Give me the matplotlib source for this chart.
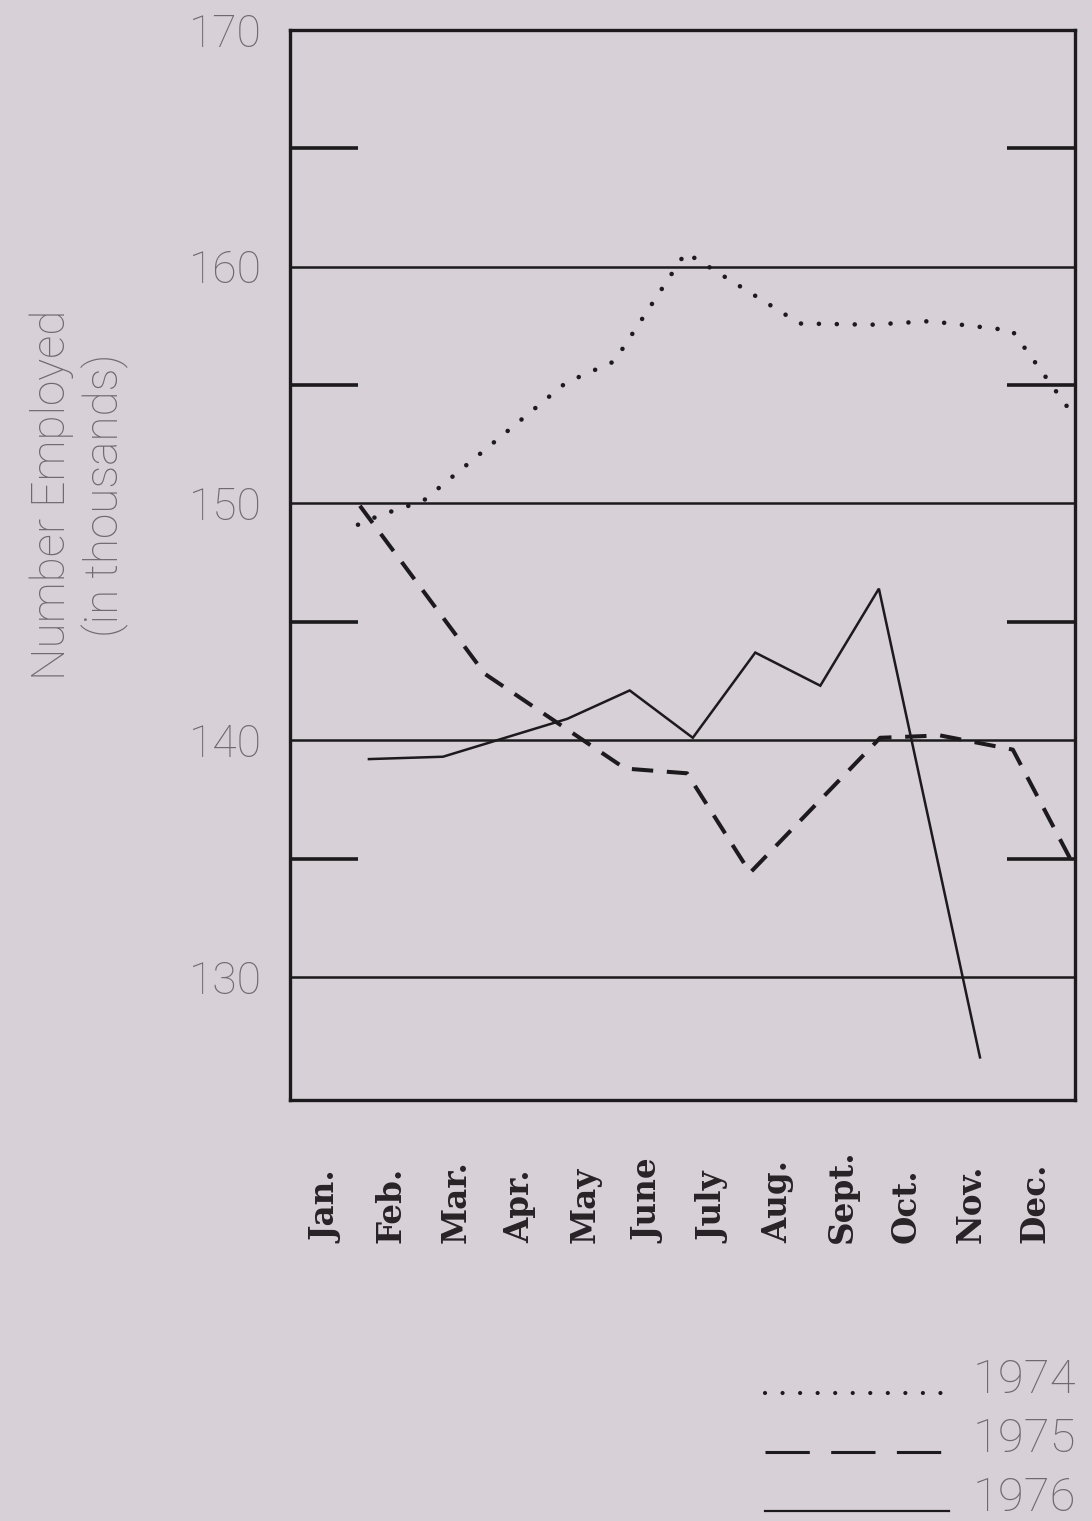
import matplotlib
matplotlib.use("Agg")
import matplotlib.pyplot as plt
import matplotlib.transforms as mtransforms
from matplotlib.lines import Line2D

# month labels along the bottom
months = ['Jan.', 'Feb.', 'Mar.', 'Apr.', 'May', 'June', 'July',
          'Aug.', 'Sept.', 'Oct.', 'Nov.', 'Dec.']

# series as drawn: x in month-label units, y = number employed (thousands)
x_1974 = [0.48, 0.82, 1.49, 3.71, 4.46, 5.57, 7.34, 8.46, 9.36, 10.64, 11.57]
y_1974 = [149.1, 149.5, 150.1, 155.1, 156.0, 160.6, 157.6, 157.55, 157.7, 157.3, 153.8]

x_1975 = [0.51, 2.45, 4.63, 5.59, 6.57, 8.59, 9.52, 10.65, 11.54]
y_1975 = [149.9, 142.8, 138.8, 138.6, 134.4, 140.1, 140.2, 139.6, 135.0]

x_1976 = [0.65, 1.80, 3.73, 4.70, 5.68, 6.65, 7.66, 8.57, 10.14]
y_1976 = [139.2, 139.3, 140.9, 142.1, 140.1, 143.7, 142.3, 146.4, 126.6]

years = ['1974', '1975', '1976']
major_y = [130, 140, 150, 160, 170]
minor_y = [135, 145, 155, 165]

bg = '#d7d0d7'
ink = '#1c1a1c'
grey = '#6e6a6e'
sans = 'Roboto'

fig = plt.figure(figsize=(10.92, 15.21), dpi=100, facecolor=bg)
ax = fig.add_axes([0.2656, 0.2768, 0.7188, 0.7035], facecolor=bg)

ax.plot(x_1974, y_1974, color=ink, lw=3.3, linestyle=(0, (0.01, 3.9)),
        dash_capstyle='round', solid_capstyle='round')
ax.plot(x_1975, y_1975, color=ink, lw=2.9, linestyle=(0, (5.3, 3.4)),
        dash_capstyle='butt')
ax.plot(x_1976, y_1976, color=ink, lw=1.8, solid_joinstyle='miter')

ax.set_xlim(-0.575, 11.615)
ax.set_ylim(124.8, 170.0)

for s in ax.spines.values():
    s.set_linewidth(2.4)
    s.set_color(ink)

ax.set_yticks(major_y)
ax.set_yticks(minor_y, minor=True)
ax.set_xticks([])
ax.tick_params(axis='y', which='major', length=0, pad=20, labelsize=32,
               labelcolor=grey)
ax.tick_params(axis='y', which='minor', direction='in', length=49, width=2.6,
               color=ink, left=True, right=True)
for lab in ax.get_yticklabels():
    lab.set_family(sans)
    lab.set_fontweight('light')
    lab.set_va('center_baseline')
ax.yaxis.grid(True, which='major', color=ink, lw=1.8)
ax.set_axisbelow(False)

# month names, rotated, bottoms aligned
trans = mtransforms.blended_transform_factory(ax.transData, ax.transAxes)
for i, m in enumerate(months):
    ax.text(i, -0.1336, m, transform=trans, rotation=90, ha='center',
            va='bottom', family='DejaVu Serif', fontweight='bold',
            fontsize=23.5, color='#262226')

ax.set_ylabel('Number Employed\n(in thousands)', family=sans,
              fontweight='light', fontsize=33, color=grey, linespacing=1.2,
              ha='center')
ax.yaxis.set_label_coords(-0.205, 0.5655)

handles = [
    Line2D([], [], color=ink, lw=3.0, linestyle=(0, (0.01, 4.2)),
           dash_capstyle='round'),
    Line2D([], [], color=ink, lw=2.2, linestyle=(0, (14.5, 7.0))),
    Line2D([], [], color=ink, lw=1.6),
]
leg = fig.legend(handles, years, loc='lower right',
                 bbox_to_anchor=(1076 / 1092, -16 / 1521), frameon=False,
                 handlelength=3.9, handletextpad=0.5, labelspacing=0.32,
                 borderpad=0, borderaxespad=0,
                 prop={'family': sans, 'weight': 'light', 'size': 34})
for t in leg.get_texts():
    t.set_color(grey)
    t.set_y(17)  # numbers sit a little above their line

fig.savefig('out.png', dpi=100, facecolor=bg)
